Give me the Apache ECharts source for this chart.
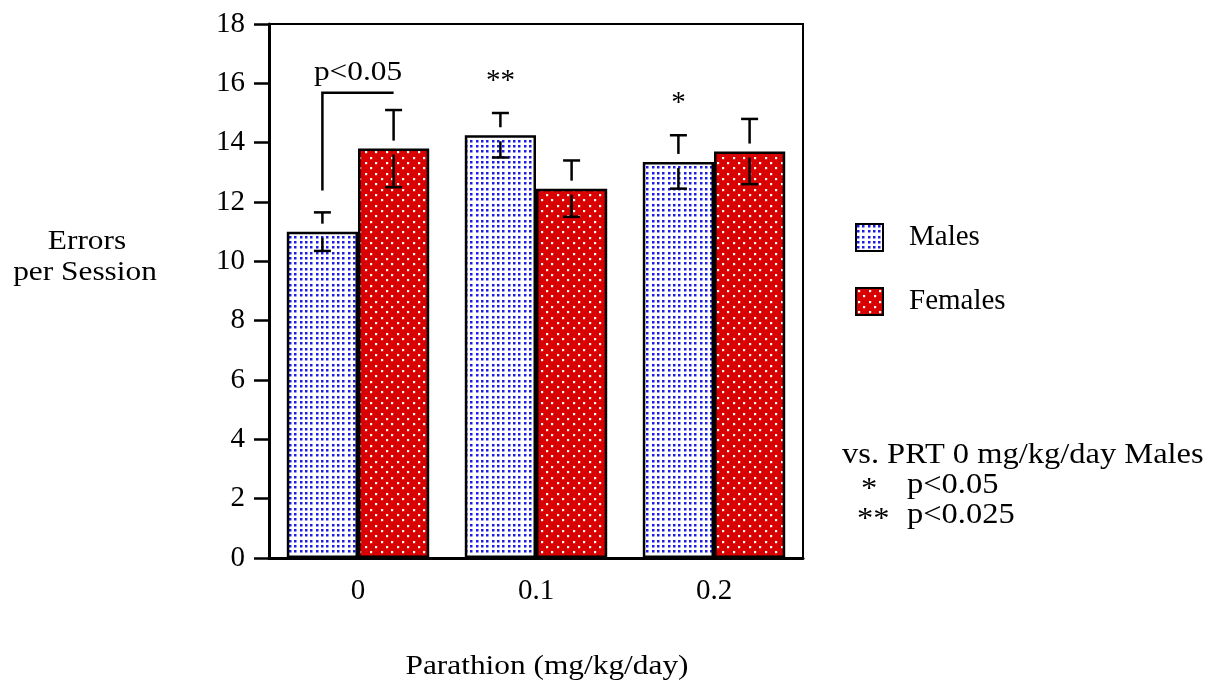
<!DOCTYPE html>
<html>
<head>
<meta charset="utf-8">
<script src="https://cdn.jsdelivr.net/npm/echarts@6/dist/echarts.min.js"></script>
<style>
  html, body { margin: 0; padding: 0; background: #fff; }
  #chart { width: 1222px; height: 689px; }
</style>
</head>
<body>
<div id="chart"></div>
<script>
// Parathion dose groups (mg/kg/day)
const doses = ['0', '0.1', '0.2'];

// Mean errors per session and standard errors
const maleMeans = [11.0, 14.25, 13.35];
const maleSE = [0.65, 0.75, 0.9];
const femaleMeans = [13.8, 12.45, 13.7];
const femaleSE = [1.3, 0.95, 1.1];

// Significance marks above male bars (vs. 0 mg/kg/day males)
const maleMarks = ['', '**', '*'];

// Male vs female comparison at dose 0
const bracketLevel = 15.68;
const bracketLabel = 'p<0.05';

// Value axis range
const yMin = 0, yMax = 18, yStep = 2;

const SERIF = '"Liberation Serif", "Times New Roman", serif';
const STRETCH = 1.12;

function dotPattern(size, bg, fg, pts, d) {
  const c = document.createElement('canvas');
  c.width = size; c.height = size;
  const ctx = c.getContext('2d');
  ctx.fillStyle = bg; ctx.fillRect(0, 0, size, size);
  ctx.fillStyle = fg;
  pts.forEach(p => ctx.fillRect(p[0], p[1], d, d));
  return c;
}

// Blue dots on white: fine regular grid
const bluePts = [];
[1, 6, 12].forEach(y => [1, 6, 12].forEach(x => bluePts.push([x, y])));
const maleFill = { image: dotPattern(16, '#ffffff', '#1c1ce6', bluePts, 2.5), repeat: 'repeat' };

// White dots on red: staggered grid
const redPts = [];
[2, 7, 13, 18, 23, 29].forEach((y, k) => {
  (k % 2 === 0 ? [2, 13, 23] : [7, 18, 29]).forEach(x => redPts.push([x, y]));
});
const femaleFill = { image: dotPattern(32, '#d80000', '#ffffff', redPts, 2.2), repeat: 'repeat' };

const BAR_GAP_RATIO = 0.2;

function barCenter(api, idx, side) {
  const band = api.size([1, 0])[0];
  const barW = band * (1 - BAR_GAP_RATIO) / 2;
  return api.coord([idx, 0])[0] + side * barW / 2;
}

function errorSeries(means, se, side, marks) {
  return {
    type: 'custom',
    z: 5,
    silent: true,
    data: means.map((m, i) => [i, m, se[i]]),
    encode: { x: 0, y: 1 },
    renderItem: function (params, api) {
      const i = api.value(0), m = api.value(1), s = api.value(2);
      const x = barCenter(api, i, side);
      const yTop = api.coord([i, m])[1];
      const yHi = api.coord([i, m + s])[1];
      const yLo = api.coord([i, m - s])[1];
      const cap = 8.5;
      const st = { stroke: '#000', lineWidth: 2.5 };
      const children = [
        { type: 'line', shape: { x1: x, y1: yHi, x2: x, y2: yTop - 8 }, style: st },
        { type: 'line', shape: { x1: x - cap, y1: yHi, x2: x + cap, y2: yHi }, style: st },
        { type: 'line', shape: { x1: x, y1: yTop + 6, x2: x, y2: yLo }, style: st },
        { type: 'line', shape: { x1: x - cap, y1: yLo, x2: x + cap, y2: yLo }, style: st }
      ];
      if (marks && marks[i]) {
        children.push({
          type: 'text',
          x: x, y: yHi - 17,
          style: {
            text: marks[i], fill: '#000',
            font: '29px ' + SERIF,
            align: 'center', verticalAlign: 'bottom'
          }
        });
      }
      return { type: 'group', children: children };
    }
  };
}

const bracketSeries = {
  type: 'custom',
  z: 5,
  silent: true,
  data: [[0, bracketLevel]],
  encode: { x: 0, y: 1 },
  renderItem: function (params, api) {
    const i = api.value(0);
    const xL = barCenter(api, i, -1);
    const xR = barCenter(api, i, 1);
    const yLevel = api.coord([i, api.value(1)])[1];
    const yStart = api.coord([i, maleMeans[i] + maleSE[i]])[1] - 22;
    const st = { stroke: '#000', lineWidth: 2.5, fill: null };
    return {
      type: 'group',
      children: [
        { type: 'polyline', shape: { points: [[xL, yStart], [xL, yLevel], [xR, yLevel]] }, style: st },
        {
          type: 'text', x: (xL + xR) / 2, y: yLevel - 6, scaleX: STRETCH,
          style: { text: bracketLabel, fill: '#000', font: '28px ' + SERIF, align: 'center', verticalAlign: 'bottom' }
        }
      ]
    };
  }
};

function freeText(text, x, y, align, size) {
  return {
    type: 'text', x: x, y: y, scaleX: STRETCH,
    style: { text: text, fill: '#000', font: (size || 28) + 'px ' + SERIF, align: align || 'center', verticalAlign: 'middle' }
  };
}

const chart = echarts.init(document.getElementById('chart'), null, { renderer: 'canvas' });

chart.setOption({
  animation: false,
  backgroundColor: '#fff',
  grid: {
    left: 269, right: 419, top: 24, bottom: 131,
    show: true, borderColor: '#000', borderWidth: 2, backgroundColor: 'transparent'
  },
  legend: {
    data: ['Males', 'Females'],
    orient: 'vertical',
    left: 850, top: 218,
    icon: 'rect',
    itemWidth: 27, itemHeight: 27, itemGap: 35,
    itemStyle: { borderColor: '#000', borderWidth: 2 },
    textStyle: { fontFamily: SERIF, fontSize: 29, color: '#000', padding: [0, 0, 0, 21] },
    selectedMode: false
  },
  xAxis: {
    type: 'category',
    data: doses,
    axisLine: { lineStyle: { color: '#000', width: 3 } },
    axisTick: { alignWithLabel: true, length: 12, lineStyle: { color: '#000', width: 2.5 } },
    axisLabel: { fontFamily: SERIF, fontSize: 29, color: '#000', margin: 19 },
    splitLine: { show: false }
  },
  yAxis: {
    type: 'value',
    min: yMin, max: yMax, interval: yStep,
    axisLine: { show: true, lineStyle: { color: '#000', width: 3 } },
    axisTick: { show: true, length: 15, lineStyle: { color: '#000', width: 2.5 } },
    axisLabel: { fontFamily: SERIF, fontSize: 29, color: '#000', margin: 24 },
    splitLine: { show: false }
  },
  series: [
    {
      name: 'Males', type: 'bar', data: maleMeans,
      barGap: 0, barCategoryGap: (BAR_GAP_RATIO * 100) + '%',
      itemStyle: { color: maleFill, borderColor: '#000', borderWidth: 2.5 }
    },
    {
      name: 'Females', type: 'bar', data: femaleMeans,
      barGap: 0, barCategoryGap: (BAR_GAP_RATIO * 100) + '%',
      itemStyle: { color: femaleFill, borderColor: '#000', borderWidth: 2.5 }
    },
    errorSeries(maleMeans, maleSE, -1, maleMarks),
    errorSeries(femaleMeans, femaleSE, 1, null),
    bracketSeries
  ],
  graphic: [
    freeText('Errors', 87, 242),
    freeText('per Session', 85, 273),
    freeText('Parathion (mg/kg/day)', 547, 667),
    freeText('vs. PRT 0 mg/kg/day Males', 842, 455, 'left', 29),
    freeText('*', 861, 489, 'left', 29),
    freeText('p<0.05', 907, 485, 'left', 29),
    freeText('**', 857, 519, 'left', 29),
    freeText('p<0.025', 907, 515, 'left', 29)
  ]
});
</script>
</body>
</html>
